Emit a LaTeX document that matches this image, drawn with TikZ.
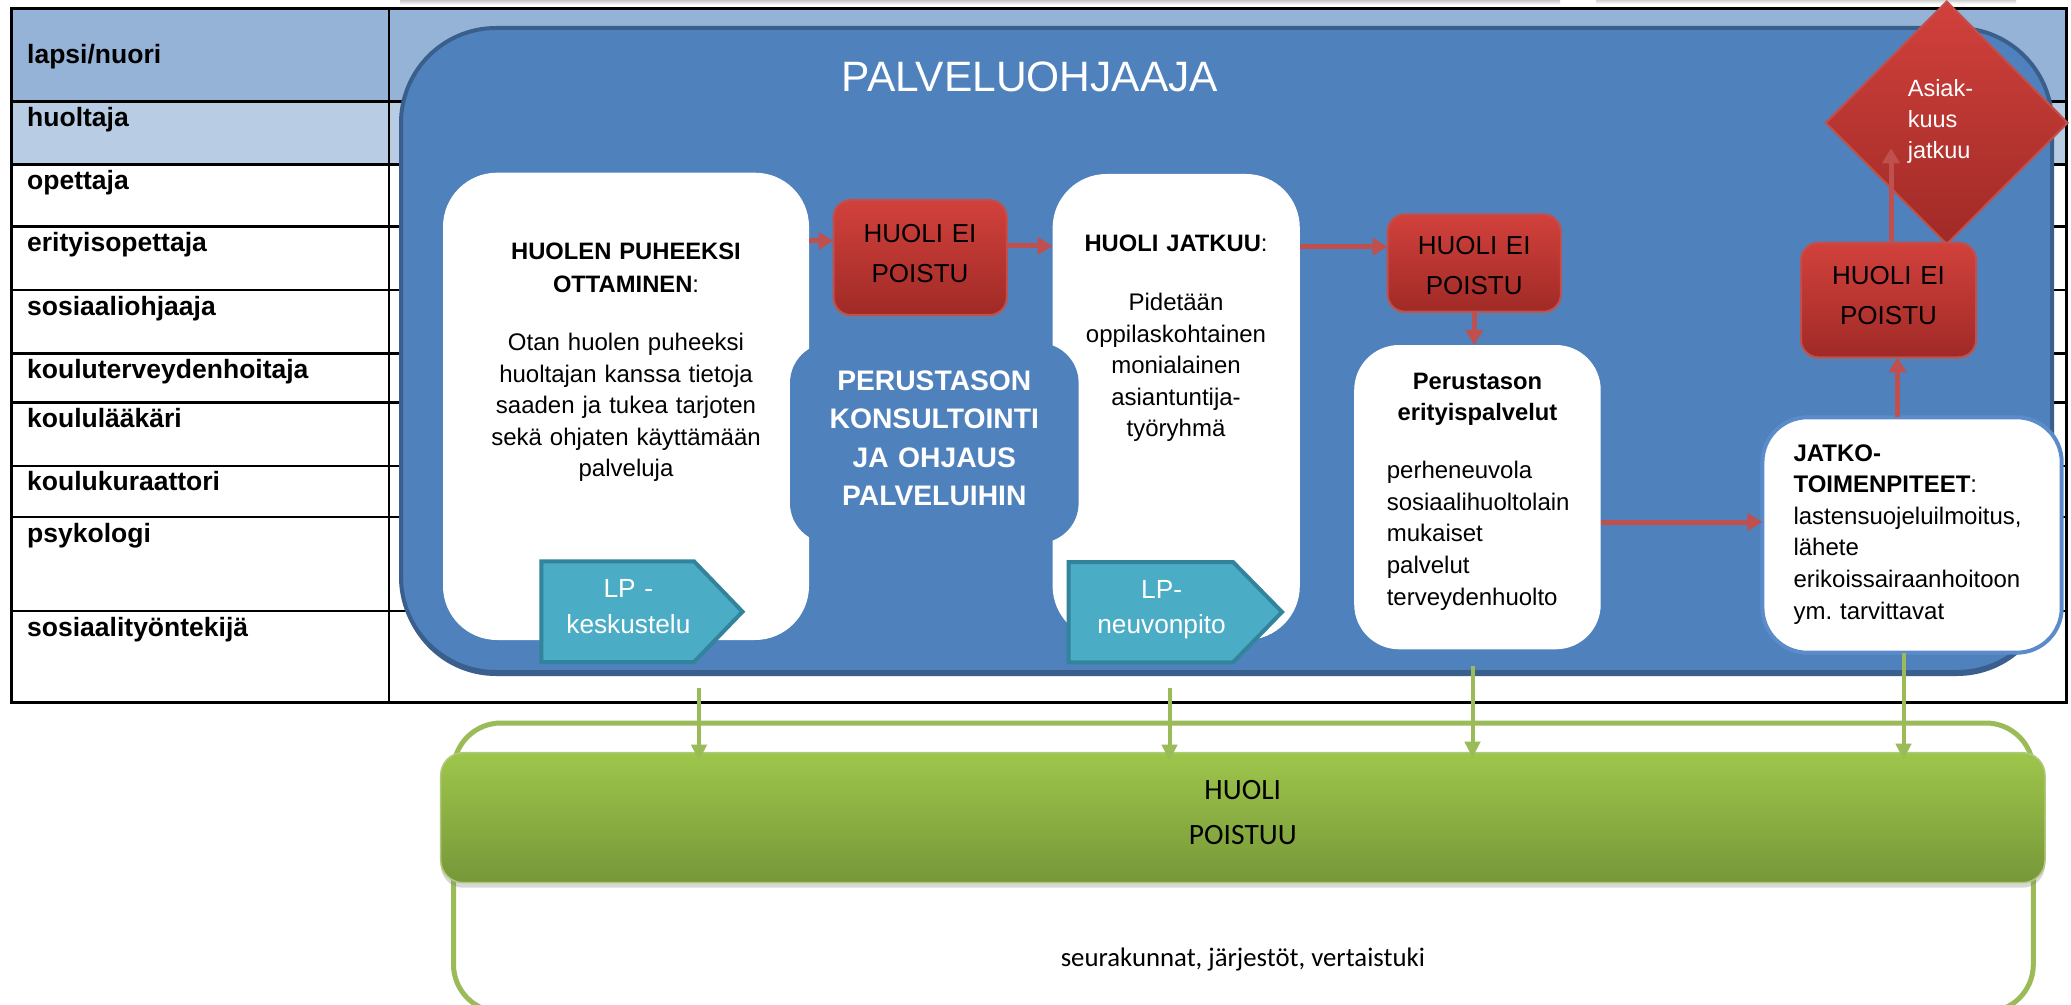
\documentclass[tikz,border=0pt]{standalone}
\usepackage{fontspec}
\setmainfont{Liberation Sans}
\newfontfamily\calib{Carlito}
\usetikzlibrary{arrows.meta,shapes.geometric,fit,shadows,calc}
\definecolor{hdrA}{HTML}{95B3D7}
\definecolor{hdrB}{HTML}{B8CCE4}
\definecolor{bigblue}{HTML}{4F81BD}
\definecolor{bigedge}{HTML}{3A5F8C}
\definecolor{redT}{HTML}{D2413C}
\definecolor{redB}{HTML}{A02A26}
\definecolor{redE}{HTML}{C0504D}
\definecolor{tealF}{HTML}{4BACC6}
\definecolor{tealE}{HTML}{31849B}
\definecolor{grn}{HTML}{9BBB59}
\definecolor{grnT}{HTML}{9EC64B}
\definecolor{grnB}{HTML}{779739}
\definecolor{boxedge}{HTML}{5B8BCB}
\begin{document}
\begin{tikzpicture}[x=0.4pt,y=-0.4pt,
  tbl/.style={line width=1pt},
  lbl/.style={anchor=base west,inner sep=0pt,font=\fontsize{10.6}{12}\selectfont\bfseries},
  wbox/.style={inner sep=0pt,outer sep=0pt,fill=white,rounded corners=#1},
  redbox/.style={inner sep=0pt,outer sep=0pt,rounded corners=7pt,top color=redT,bottom color=redB,draw=redE,line width=0.8pt,
    drop shadow={opacity=0.3,shadow xshift=0pt,shadow yshift=-1.5pt}},
  txt/.style={anchor=base,inner sep=0pt,align=center,text width=#1,font=\fontsize{9.6}{12.6}\selectfont},
  head/.style={anchor=base,inner sep=0pt,align=center,text width=#1,font=\fontsize{9.5}{12.9}\selectfont},
  ltxt/.style={anchor=base west,inner sep=0pt,align=left,text width=#1,font=\fontsize{9.6}{12.65}\selectfont},
  rtxt/.style={anchor=base,inner sep=0pt,align=center,text width=70pt,font=\fontsize{10.4}{15.6}\selectfont},
  lptxt/.style={anchor=base,inner sep=0pt,align=center,text width=60pt,text=white,font=\fontsize{10.5}{14.2}\selectfont},
  lpshape/.style={fill=tealF,draw=tealE,line width=1.6pt,line join=miter},
  rarr/.style={draw=redE,line width=2pt,-{Triangle[width=6.8pt,length=6pt]}},
  garr/.style={draw=grn,line width=1.6pt,-{Triangle[width=6pt,length=6.4pt]}}
]
\useasboundingbox (0,0) rectangle (2071,1005);
\clip (0,0) rectangle (2071,1005);
\fill[white] (0,0) rectangle (2071,1005);
% faint shadows at the top edge
\shade[top color=black!22,bottom color=white] (400,0) rectangle (1560,5);
\shade[top color=black!18,bottom color=white] (1596,0) rectangle (2016,4);

% ---------- table ----------
\fill[hdrA] (11.7,9) rectangle (2066.7,101.7);
\fill[hdrB] (11.7,101.7) rectangle (2066.7,164.3);
\foreach \yy in {101.7,164.3,226.7,290,353.3,402.7,466,517,611}
  \draw[tbl] (11.7,\yy) -- (2066.7,\yy);
\draw[tbl] (389,9) -- (389,702.7);
\draw[line width=1.2pt] (11.7,9) rectangle (2066.7,702.7);

\node[lbl] (l1) at (26.7,64) {lapsi/nuori};
\node[lbl] (l2) at (26.7,126.7) {huoltaja};
\node[lbl] (l3) at (26.7,189.3) {opettaja};
\node[lbl] (l4) at (26.7,251.7) {erityisopettaja};
\node[lbl] (l5) at (26.7,315) {sosiaaliohjaaja};
\node[lbl] (l6) at (26.7,378.3) {kouluterveydenhoitaja};
\node[lbl] (l7) at (26.7,427.5) {koululääkäri};
\node[lbl] (l8) at (26.7,490.7) {koulukuraattori};
\node[lbl] (l9) at (26.7,542) {psykologi};
\node[lbl] (l10) at (26.7,636) {sosiaalityöntekijä};

% ---------- big blue container ----------
\fill[bigedge,rounded corners=38pt] (401,32) rectangle (2052,676);
\node[fit={(401,28) (2052,672)},inner sep=0pt,outer sep=0pt,rounded corners=38pt,fill=bigblue,draw=bigedge,line width=1.6pt] (big) {};
\node[anchor=base,inner sep=0pt,text=white,font=\fontsize{17}{20}\selectfont] (title) at (1030,91.7) {PALVELUOHJAAJA};

% ---------- white boxes ----------
\node[wbox=21.6pt,fit={(443,172.7) (809,640)}] (box1) {};
\node[wbox=21.6pt,fit={(1052.6,174) (1299.8,640)}] (box2) {};
\node[wbox=18pt,fit={(1354.2,345) (1600.7,649.3)}] (box3) {};
\node[wbox=18pt,fit={(1762.4,417.3) (2061.7,652.7)},draw=boxedge,line width=1.6pt] (box5) {};

% ---------- consultation box ----------
\node[fit={(790,343) (1078.6,543)},inner sep=0pt,outer sep=0pt,rounded corners=16pt,fill=bigblue] (pk) {};

% ---------- LP shapes ----------
\filldraw[lpshape] (541.4,561.3) -- (694,561.3) -- (742.5,611.7) -- (694,662) -- (541.4,662) -- cycle;
\filldraw[lpshape] (1068.5,562) -- (1233,562) -- (1282,612) -- (1233,662.3) -- (1068.5,662.3) -- cycle;

% ---------- red boxes and diamond ----------
\node[diamond,aspect=1,minimum width=96.7pt,minimum height=97pt,inner sep=0pt,outer sep=0pt,
  top color=redT,bottom color=redB,draw=redE,line width=0.8pt] (dia) at (1946.7,122.8) {};
\node[redbox,fit={(833.5,200) (1006.8,315)}] (red1) {};
\node[redbox,fit={(1387.6,214.3) (1560.8,311.7)}] (red2) {};
\node[redbox,fit={(1801,242.7) (1976,357.3)}] (red3) {};

% ---------- red connectors ----------
\coordinate (yA) at (0,241);
\coordinate (yB) at (0,246);
\coordinate (yC) at (0,246.7);
\coordinate (yD) at (0,522);
\coordinate (xE) at (1897.5,0);
\coordinate (dtip) at (1891,148.3);
\draw[rarr] (box1.east |- yA) -- (red1.west |- yA);
\draw[rarr] (red1.east |- yB) -- (box2.west |- yB);
\draw[rarr] (box2.east |- yC) -- (red2.west |- yC);
\draw[rarr] (red2.south) -- (red2.south |- box3.north);
\draw[rarr] (box3.east |- yD) -- (box5.west |- yD);
\draw[rarr] (box5.north -| xE) -- (red3.south -| xE);
\draw[rarr] (red3.north -| dtip) -- (dtip);

% ---------- texts ----------
\node[head=150pt] (h1) at (626,260) {\textbf{HUOLEN PUHEEKSI}\\\textbf{OTTAMINEN}:};
\node[txt=150pt] (b1) at (626,350.7) {Otan huolen puheeksi\\huoltajan kanssa tietoja\\saaden ja tukea tarjoten\\sekä ohjaten käyttämään\\palveluja};
\node[head=100pt] (h2) at (1176,251.7) {\textbf{HUOLI JATKUU}:};
\node[txt=100pt] (b2) at (1176,310.5) {Pidetään\\oppilaskohtainen\\monialainen\\asiantuntija-\\työryhmä};
\node[head=95pt,font=\fontsize{9.5}{12.3}\selectfont] (h3) at (1477.5,389.3) {\textbf{Perustason}\\\textbf{erityispalvelut}};
\node[ltxt=95pt,font=\fontsize{9.6}{12.7}\selectfont] (b3) at (1386.3,478.3) {perheneuvola\\sosiaalihuoltolain\\mukaiset\\palvelut\\terveydenhuolto};
\node[ltxt=115pt] (b5) at (1793,461) {\textbf{JATKO-}\\\textbf{TOIMENPITEET}:\\lastensuojeluilmoitus,\\lähete\\erikoissairaanhoitoon\\ym.\ tarvittavat};
\node[anchor=base,inner sep=0pt,align=center,text width=110pt,text=white,font=\fontsize{11.3}{15.3}\selectfont\bfseries] (pkt) at (934.3,390.7) {PERUSTASON\\KONSULTOINTI\\JA OHJAUS\\PALVELUIHIN};
\node[rtxt] (r1t) at (920,243) {HUOLI EI\\POISTU};
\node[rtxt] (r2t) at (1474.2,255) {HUOLI EI\\POISTU};
\node[rtxt] (r3t) at (1888.5,285) {HUOLI EI\\POISTU};
\node[lptxt] (lp1t) at (628.4,597.7) {LP -\\keskustelu};
\node[lptxt] (lp2t) at (1161.6,598) {LP-\\neuvonpito};
\node[anchor=base west,inner sep=0pt,align=left,text width=40pt,text=white,font=\fontsize{9.4}{12.4}\selectfont] (dt) at (1907.3,96.7) {Asiak-\\kuus\\jatkuu};

% ---------- green part ----------
\node[fit={(453.5,723) (2033.3,1012)},inner sep=0pt,outer sep=0pt,rounded corners=19pt,draw=grn,line width=2pt] (frame) {};
\node[fit={(440.7,752.7) (2045,882.7)},inner sep=0pt,outer sep=0pt,rounded corners=9pt,top color=grnT,bottom color=grnB,
  draw=grn!80!white,line width=0.6pt,drop shadow={opacity=0.3,shadow xshift=0pt,shadow yshift=-2pt}] (gbar) {};
\coordinate (g1) at (699,688);
\coordinate (g2) at (1169.5,688);
\coordinate (g3) at (1472.5,666);
\coordinate (x4) at (1903.5,0);
\draw[garr] (g1) -- ($(g1 |- gbar.north)+(0,8)$);
\draw[garr] (g2) -- ($(g2 |- gbar.north)+(0,8)$);
\draw[garr] (g3) -- ($(g3 |- gbar.north)+(0,5)$);
\draw[garr] (box5.south -| x4) -- ($(gbar.north -| x4)+(0,7)$);
\node[anchor=base,inner sep=0pt,align=center,text width=70pt,font=\calib\fontsize{11.8}{18}\selectfont] (gt) at (1242.8,799.3) {HUOLI\\POISTUU};
\node[anchor=base,inner sep=0pt,font=\calib\fontsize{10.7}{13}\selectfont] (st) at (1242.8,966) {seurakunnat, järjestöt, vertaistuki};
\end{tikzpicture}
\end{document}
